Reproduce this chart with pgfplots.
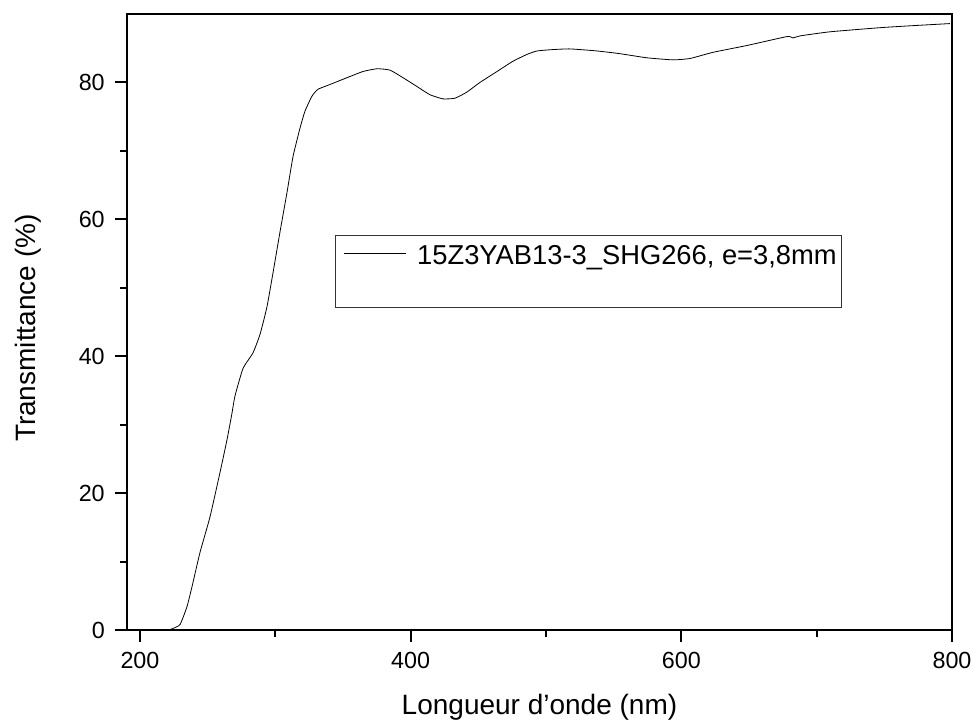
\documentclass[border=0pt]{standalone}
\usepackage{fontspec}
\setmainfont{Liberation Sans}
\usepackage{pgfplots}
\pgfplotsset{compat=1.18}
\usetikzlibrary{calc}
\newlength{\px}\setlength{\px}{0.75pt}

\begin{document}
\begin{tikzpicture}
\begin{axis}[
  scale only axis,
  width=825\px, height=616\px,
  xmin=190.4, xmax=800, ymin=0, ymax=90,
  xtick={200,400,600,800}, ytick={0,20,40,60,80},
  minor xtick={300,500,700}, minor ytick={10,30,50,70},
  tick pos=left, tick align=outside,
  major tick length=12\px, minor tick length=7\px,
  every tick/.style={black, line width=1.5pt},
  axis line style={line width=1.5pt},
  /pgf/number format/assume math mode=true,
  ticklabel style={font=\fontsize{17.5}{20}\selectfont},
  xticklabel style={inner sep=0pt, yshift=-10\px},
  yticklabel style={inner sep=0pt, xshift=-10\px},
  xlabel={Longueur d'onde (nm)},
  ylabel={Transmittance (\%)},
  label style={font=\fontsize{21}{24}\selectfont},
  xlabel style={at={(axis description cs:0.5,-0.138)}, anchor=base},
  ylabel style={at={(axis description cs:-0.1115,0.49)}, anchor=base},
  legend style={at={(axis description cs:0.2521,0.6412)}, anchor=north west,
    draw=black!80, line width=0.6pt, inner ysep=0pt, inner xsep=0pt,
    column sep=6\px,
    font=\fontsize{20.5}{23}\selectfont,
    nodes={inner xsep=5\px, inner ysep=10\px, text depth=33\px}},
  legend cell align=left,
  legend image code/.code={\path (0,0); \draw[#1] (8\px,18\px) -- (70\px,18\px);},
]
\addplot[black, line width=0.6pt, smooth, tension=0.3] coordinates {
(200,0) (220,0) (224,0.2) (229.6,0.8) (234.7,3.4) (238.4,6.3) (244.3,11.3)
(251.7,16.5) (259.1,23.0) (264.3,27.8) (268.0,31.7) (270.2,34.2) (276.1,38.2)
(283.5,40.5) (288.7,43.2) (293.8,47.2) (298.3,52.2) (303.4,58.1) (308.6,63.9)
(313.1,69.2) (318.2,73.3) (321.9,75.8) (327.1,78.0) (331.5,79.0) (340.4,79.7)
(353.0,80.7) (364.8,81.6) (375.1,82.0) (384.7,81.8) (394.3,80.7) (404.7,79.4)
(414.3,78.2) (423.9,77.6) (432.8,77.7) (441.6,78.6) (451.2,80.0) (463.8,81.6)
(475.6,83.1) (486.0,84.1) (493.4,84.6) (505,84.8) (517.7,84.9) (537.7,84.6)
(554.7,84.2) (574.6,83.6) (593.9,83.3) (606.4,83.5) (623.4,84.4) (648.5,85.4)
(678.1,86.7) (682.5,86.5) (687.7,86.8) (709.9,87.4) (746.8,88.0) (771.2,88.3)
(798.5,88.6)
};
\addlegendentry{15Z3YAB13-3\_SHG266, e=3,8mm}
\coordinate (sw) at (rel axis cs:0,0);
\coordinate (ne) at (rel axis cs:1,1);
\end{axis}
\pgfresetboundingbox
\path ($(sw)+(-127\px,-92\px)$) rectangle ($(ne)+(23\px,14\px)$);
\end{tikzpicture}
\end{document}
